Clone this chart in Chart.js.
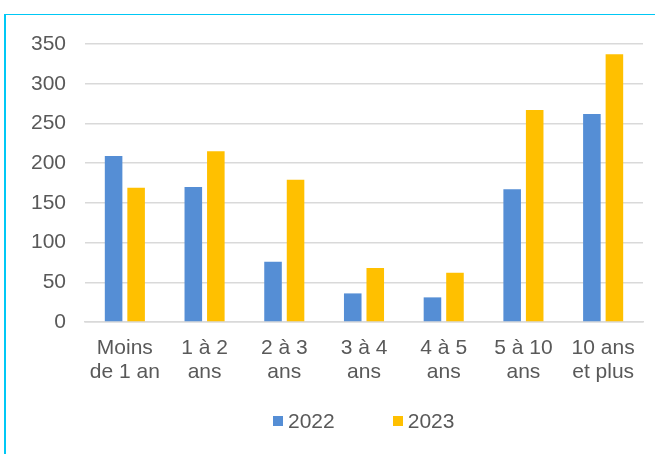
<!DOCTYPE html>
<html>
  <head>
    <meta charset="utf-8" />
    <title>Ancienneté</title>
    <script src="https://cdn.jsdelivr.net/npm/chart.js"></script>
    <style>
      html, body { margin: 0; padding: 0; background: #ffffff; overflow: hidden; }
      #cadre {
        position: absolute;
        left: 4px;
        top: 14px;
        width: 651px;
        height: 440px;
        border-left: 2px solid #00c8f5;
        border-top: 1px solid #00c8f5;
        box-sizing: border-box;
      }
      #graphique { position: absolute; left: 0; top: 0; }
      #legende {
        position: absolute;
        left: 273px;
        top: 409px;
        display: flex;
        align-items: center;
        font-family: "Liberation Sans", Arial, sans-serif;
        font-size: 21px;
        line-height: 24px;
        color: #595959;
      }
      #legende .element { display: flex; align-items: center; margin-right: 58px; }
      #legende .carre { width: 10px; height: 10px; margin-right: 5px; }
    </style>
  </head>
  <body>
    <div id="cadre"></div>
    <canvas id="graphique" width="655" height="454"></canvas>
    <div id="legende"></div>

    <script>
      // Catégories d'ancienneté (libellés sur deux lignes)
      var categories = [
        ["Moins", "de 1 an"],
        ["1 à 2", "ans"],
        ["2 à 3", "ans"],
        ["3 à 4", "ans"],
        ["4 à 5", "ans"],
        ["5 à 10", "ans"],
        ["10 ans", "et plus"],
      ];

      var valeurs2022 = [209, 170, 76, 36, 31, 167, 262];
      var valeurs2023 = [169, 215, 179, 68, 62, 267, 337];

      var graduations = [0, 50, 100, 150, 200, 250, 300, 350];

      var texte = "#595959";
      var police = {
        family: "'Liberation Sans', Arial, sans-serif",
        size: 21,
        lineHeight: 24 / 21,
      };

      // Légende HTML construite à partir des éléments de légende de Chart.js
      var legendeHtml = {
        id: "legendeHtml",
        afterUpdate: function (chart) {
          var conteneur = document.getElementById("legende");
          conteneur.innerHTML = "";
          var items = chart.options.plugins.legend.labels.generateLabels(chart);
          items.forEach(function (item) {
            var el = document.createElement("div");
            el.className = "element";
            var carre = document.createElement("span");
            carre.className = "carre";
            carre.style.background = item.fillStyle;
            var libelle = document.createElement("span");
            libelle.textContent = item.text;
            el.appendChild(carre);
            el.appendChild(libelle);
            conteneur.appendChild(el);
          });
        },
      };

      var ctx = document.getElementById("graphique").getContext("2d");

      new Chart(ctx, {
        type: "bar",
        data: {
          labels: categories,
          datasets: [
            {
              label: "2022",
              data: valeurs2022,
              backgroundColor: "#558ed5",
              categoryPercentage: 0.565,
              barPercentage: 0.78,
            },
            {
              label: "2023",
              data: valeurs2023,
              backgroundColor: "#ffc000",
              categoryPercentage: 0.565,
              barPercentage: 0.78,
            },
          ],
        },
        options: {
          responsive: false,
          animation: false,
          devicePixelRatio: 1,
          layout: {
            padding: { left: 0, right: 12, top: 44, bottom: 70 },
          },
          scales: {
            x: {
              grid: { display: false, drawTicks: false },
              border: { display: true, color: "#d9d9d9", width: 1.5 },
              ticks: {
                color: texte,
                font: police,
                padding: 14,
                maxRotation: 0,
                autoSkip: false,
              },
              afterFit: function (scale) {
                scale.height = 62;
              },
            },
            y: {
              min: 0,
              max: 350,
              afterBuildTicks: function (scale) {
                scale.ticks = graduations.map(function (v) {
                  return { value: v };
                });
              },
              grid: { color: "#d9d9d9", lineWidth: 1.5, drawTicks: false },
              border: { display: false },
              ticks: {
                color: texte,
                font: police,
                padding: 19,
              },
              afterFit: function (scale) {
                scale.width = 85;
              },
            },
          },
          plugins: {
            legend: { display: false },
            tooltip: { enabled: false },
          },
        },
        plugins: [legendeHtml],
      });
    </script>
  </body>
</html>
